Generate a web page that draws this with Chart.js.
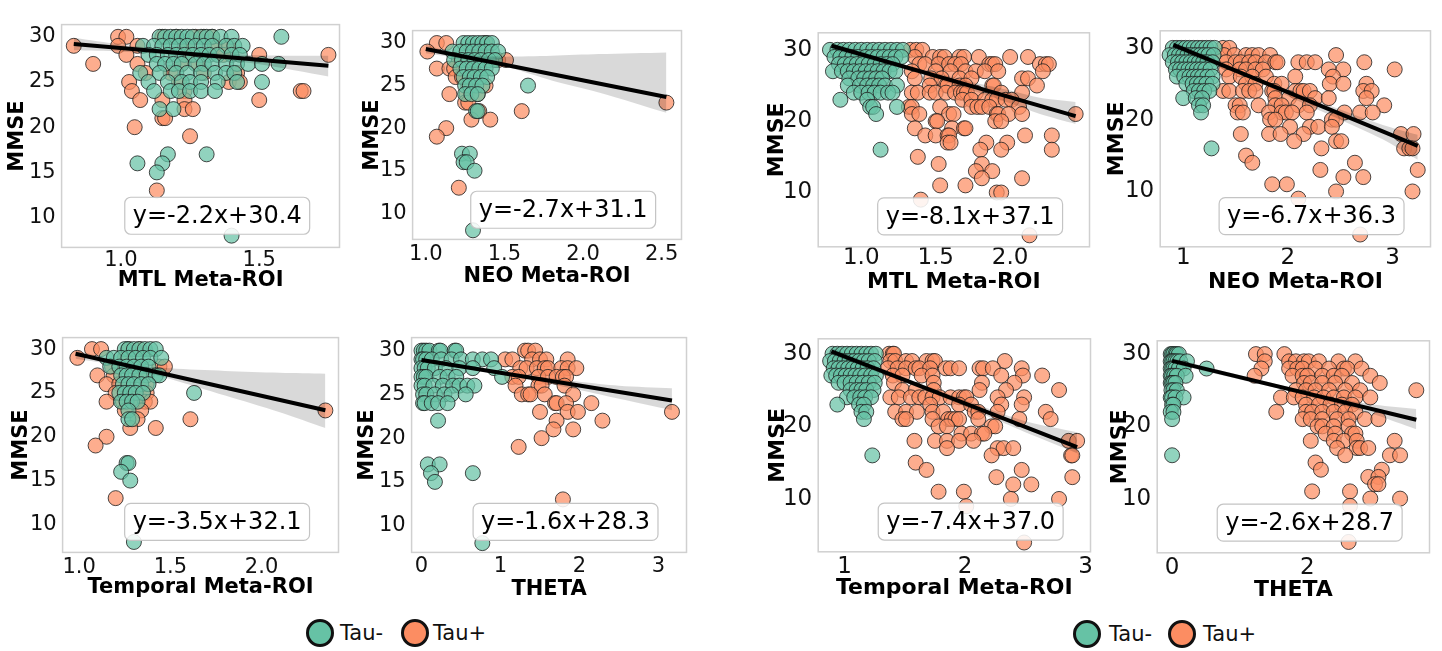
<!DOCTYPE html>
<html>
<head>
<meta charset="utf-8">
<script src="https://cdn.jsdelivr.net/npm/chart.js@4.4.1/dist/chart.umd.min.js"></script>
<style>
  body { margin: 0; background: #fff; width: 1442px; height: 651px; overflow: hidden; position: relative; font-family: "DejaVu Sans", sans-serif; }
  canvas { position: absolute; }
  .dot { position: absolute; width: 28px; height: 28px; box-sizing: border-box; border: 3px solid #111; border-radius: 50%; }
  .lbl { position: absolute; font-size: 21px; line-height: 28px; color: #111; }
</style>
</head>
<body>
<script>
// MMSE rows: first value is the MMSE score, the rest are the x values of the points on that row
const aMtlNeg = [
  [30, 1.14, 1.16, 1.18, 1.20, 1.22, 1.24, 1.26, 1.29, 1.31, 1.33, 1.36, 1.40, 1.58],
  [29, 1.08, 1.12, 1.15, 1.18, 1.21, 1.24, 1.27, 1.30, 1.33, 1.38, 1.41, 1.44],
  [28, 1.10, 1.13, 1.17, 1.20, 1.23, 1.26, 1.29, 1.32, 1.35, 1.40, 1.43],
  [27, 1.13, 1.16, 1.19, 1.22, 1.27, 1.30, 1.33, 1.38, 1.42, 1.46, 1.51, 1.57],
  [26, 1.07, 1.14, 1.20, 1.24, 1.29, 1.34, 1.38, 1.41],
  [25, 1.10, 1.17, 1.22, 1.25, 1.29, 1.35, 1.42, 1.51],
  [24, 1.12, 1.18, 1.21, 1.25, 1.29, 1.34],
  [22, 1.14, 1.19], [17, 1.17, 1.31], [16, 1.06, 1.15], [15, 1.13], [8, 1.40]
];
const aMtlPos = [
  [30, 0.99, 1.02, 1.15, 1.20, 1.27, 1.30, 1.33],
  [29, 0.83, 0.99, 1.06, 1.24, 1.34, 1.39],
  [28, 1.02, 1.25, 1.37, 1.50, 1.75],
  [27, 0.90, 1.06, 1.22, 1.28],
  [26, 1.09, 1.18, 1.30, 1.42],
  [25, 1.03, 1.21, 1.39, 1.43],
  [24, 1.04, 1.23, 1.65, 1.66],
  [23, 1.07, 1.15, 1.23, 1.50],
  [22, 1.23, 1.26], [21, 1.15, 1.16], [20, 1.05], [19, 1.25], [13, 1.13]
];
const aNeoNeg = [
  [30, 1.24, 1.27, 1.30, 1.33, 1.36, 1.39, 1.42],
  [29, 1.17, 1.22, 1.26, 1.30, 1.34, 1.38, 1.42, 1.46],
  [28, 1.18, 1.23, 1.27, 1.31, 1.35, 1.40, 1.44],
  [27, 1.22, 1.26, 1.30, 1.34, 1.38, 1.42],
  [26, 1.24, 1.28, 1.31, 1.35, 1.39],
  [25, 1.25, 1.28, 1.32, 1.36, 1.65],
  [24, 1.25, 1.29, 1.33],
  [22, 1.32, 1.33], [17, 1.23, 1.28], [16, 1.24, 1.26], [15, 1.31], [8, 1.30]
];
const aNeoPos = [
  [30, 1.07, 1.13, 1.38], [29, 1.01, 1.33], [28, 1.21, 1.46, 1.51],
  [27, 1.07, 1.15, 1.18, 1.30], [26, 1.19, 1.23], [25, 1.27, 1.38],
  [24, 1.15, 1.26, 1.33], [23, 1.25, 1.27, 2.53], [22, 1.34, 1.61],
  [21, 1.29, 1.41], [20, 1.13], [19, 1.07], [13, 1.21]
];
const aTempNeg = [
  [30, 1.25, 1.27, 1.30, 1.33, 1.36, 1.39, 1.42],
  [29, 1.15, 1.19, 1.23, 1.27, 1.31, 1.35, 1.39, 1.45],
  [28, 1.17, 1.22, 1.26, 1.30, 1.34, 1.38],
  [27, 1.23, 1.26, 1.29, 1.33, 1.37, 1.42, 1.44],
  [26, 1.24, 1.27, 1.30, 1.34, 1.38],
  [25, 1.22, 1.25, 1.28, 1.31, 1.35, 1.63],
  [24, 1.23, 1.26, 1.29, 1.32],
  [23, 1.27], [22, 1.27, 1.29], [17, 1.26, 1.27], [16, 1.23], [15, 1.28], [8, 1.30]
];
const aTempPos = [
  [30, 1.07, 1.12, 1.27, 1.33], [29, 0.99, 1.25], [28, 1.18, 1.44, 1.47],
  [27, 1.10, 1.19, 1.33], [26, 1.15, 1.22, 1.37], [25, 1.20, 1.31, 1.37],
  [24, 1.15, 1.24, 1.30, 1.36, 1.39], [23, 1.25, 1.34, 2.35], [22, 1.32, 1.61],
  [21, 1.28, 1.42], [20, 1.15], [19, 1.09], [13, 1.20]
];
const aThetaNeg = [
  [30, 0.00, 0.03, 0.06, 0.10, 0.22, 0.24, 0.42, 0.44],
  [29, 0.00, 0.02, 0.06, 0.13, 0.25, 0.38, 0.50, 0.65, 0.77, 0.88],
  [28, 0.00, 0.04, 0.08, 0.17, 0.31, 0.48, 0.65, 0.92],
  [27, 0.00, 0.03, 0.06, 0.23, 0.33, 0.44, 1.02],
  [26, 0.00, 0.04, 0.15, 0.27, 0.40, 0.48, 0.58, 0.67],
  [25, 0.02, 0.06, 0.17, 0.29, 0.38, 0.56],
  [24, 0.02, 0.04, 0.13, 0.21, 0.33],
  [22, 0.21], [17, 0.08, 0.23], [16, 0.12, 0.65], [15, 0.17], [8, 0.77]
];
const aThetaPos = [
  [30, 1.31, 1.35, 1.44],
  [29, 1.06, 1.15, 1.40, 1.50, 1.58, 1.85],
  [28, 1.25, 1.33, 1.46, 1.56, 1.60, 1.77, 1.85, 1.96],
  [27, 1.15, 1.23, 1.48, 1.60, 1.71, 1.79, 1.83],
  [26, 1.19, 1.48, 1.52, 1.81],
  [25, 1.27, 1.35, 1.38, 1.56, 1.92],
  [24, 1.69, 1.71, 1.83, 2.15],
  [23, 1.50, 1.85, 1.98, 3.17],
  [22, 1.71, 2.29], [21, 1.67, 1.92], [20, 1.52], [19, 1.23], [13, 1.79]
];
const bMtlNeg = [
  [30, 0.79, 0.84, 0.88, 0.92, 0.96, 1.00, 1.04, 1.08, 1.12, 1.16, 1.20, 1.24, 1.28],
  [29, 0.82, 0.86, 0.90, 0.94, 0.98, 1.03, 1.07, 1.11, 1.15, 1.19, 1.23, 1.27],
  [28, 0.85, 0.89, 0.93, 0.97, 1.01, 1.05, 1.09, 1.13, 1.17, 1.21],
  [27, 0.81, 0.87, 0.91, 0.95, 0.99, 1.03, 1.07, 1.11, 1.15, 1.19, 1.23],
  [26, 0.92, 0.98, 1.02, 1.06, 1.10, 1.14],
  [25, 0.91, 0.99, 1.04, 1.08, 1.12, 1.16, 1.24],
  [24, 0.95, 1.00, 1.05, 1.09, 1.13, 1.18, 1.21],
  [23, 0.86, 1.04], [22, 1.06, 1.08, 1.24], [21, 1.10], [16, 1.13]
];
const bMtlPos = [
  [30, 1.33, 1.37, 1.41],
  [29, 1.36, 1.48, 1.53, 1.56, 1.66, 1.69, 1.79, 2.00, 2.12],
  [28, 1.39, 1.43, 1.52, 1.59, 1.63, 1.67, 1.86, 1.88, 1.90, 2.20, 2.24, 2.26],
  [27, 1.34, 1.50, 1.60, 1.70, 1.77, 1.83, 1.92, 2.22],
  [26, 1.36, 1.47, 1.54, 1.66, 1.74, 2.08, 2.12],
  [25, 1.46, 1.57, 1.58, 1.66, 1.70, 1.88, 1.89, 2.18],
  [24, 1.34, 1.38, 1.46, 1.50, 1.57, 1.63, 1.67, 1.69, 1.71, 1.77, 1.94, 2.08],
  [23, 1.68, 1.74, 1.83, 1.88, 1.91, 1.97, 2.01],
  [22, 1.32, 1.34, 1.53, 1.74, 1.78, 1.81, 1.86, 2.06],
  [21, 1.34, 1.39, 1.59, 1.62, 1.91, 1.92, 1.99, 2.08, 2.44],
  [20, 1.50, 1.51, 1.90, 1.94],
  [19, 1.36, 1.61, 1.69, 1.70],
  [18, 1.43, 1.50, 1.58, 1.59, 2.10, 2.28],
  [17, 1.58, 1.60, 1.84, 1.98],
  [16, 1.80, 1.94, 2.28], [15, 1.38], [14, 1.52, 1.81], [13, 1.77, 1.88],
  [12, 1.81, 2.08], [11, 1.53, 1.70], [10, 1.91, 1.94], [9, 1.40], [4, 2.13]
];
const bNeoNeg = [
  [30, 0.90, 0.94, 0.98, 1.02, 1.06, 1.10, 1.14, 1.18, 1.22, 1.26, 1.30],
  [29, 0.87, 0.92, 0.96, 1.00, 1.04, 1.08, 1.12, 1.16, 1.20, 1.24, 1.29],
  [28, 0.90, 0.95, 0.99, 1.03, 1.07, 1.11, 1.15, 1.19, 1.23, 1.28],
  [27, 0.93, 0.97, 1.01, 1.05, 1.09, 1.13, 1.17, 1.21, 1.26],
  [26, 0.94, 1.01, 1.06, 1.10, 1.14, 1.18, 1.23, 1.28],
  [25, 1.03, 1.09, 1.13, 1.17, 1.22, 1.28],
  [24, 1.10, 1.15, 1.20, 1.25],
  [23, 1.00, 1.12, 1.18], [22, 1.15, 1.19], [21, 1.17], [16, 1.27]
];
const bNeoPos = [
  [30, 1.38, 1.44],
  [29, 1.39, 1.49, 1.60, 1.66, 1.72, 1.83, 2.46],
  [28, 1.41, 1.50, 1.55, 1.63, 1.69, 1.79, 1.88, 1.90, 2.10, 2.18, 2.26, 2.73],
  [27, 1.41, 1.54, 1.60, 1.69, 1.76, 2.39, 2.53, 3.02],
  [26, 1.44, 1.55, 1.66, 1.79, 2.07, 2.43],
  [25, 1.60, 1.69, 1.87, 1.94, 2.40, 2.53, 2.75],
  [24, 1.38, 1.44, 1.57, 1.63, 1.69, 1.85, 1.87, 2.07, 2.12, 2.15, 2.21, 2.72, 2.80],
  [23, 1.88, 2.01, 2.26, 2.39, 2.75],
  [22, 1.50, 1.54, 1.72, 1.88, 1.94, 2.10, 2.21, 2.92],
  [21, 1.52, 1.57, 1.82, 1.94, 1.98, 2.04, 2.18, 2.54, 2.69, 2.81],
  [20, 1.83, 1.88, 2.42, 2.46],
  [19, 2.02, 2.21, 2.29, 2.42],
  [18, 1.55, 1.82, 1.93, 2.15, 3.08, 3.20],
  [17, 2.06, 2.46, 2.51],
  [16, 2.32, 3.11, 3.16, 3.19], [15, 1.60], [14, 1.66, 2.64], [13, 2.31, 3.24],
  [12, 2.53, 2.72], [11, 1.85, 1.99], [10, 2.46, 3.19], [9, 2.10], [4, 2.69]
];
const bTempNeg = [
  [30, 0.90, 0.94, 0.98, 1.02, 1.06, 1.10, 1.14, 1.18, 1.22, 1.26],
  [29, 0.88, 0.92, 0.96, 1.00, 1.04, 1.08, 1.12, 1.16, 1.20, 1.25],
  [28, 0.91, 0.95, 0.99, 1.03, 1.07, 1.11, 1.15, 1.19, 1.24],
  [27, 0.89, 0.93, 0.97, 1.01, 1.05, 1.09, 1.13, 1.17, 1.22, 1.26],
  [26, 0.95, 1.00, 1.05, 1.10, 1.15, 1.20, 1.25],
  [25, 1.05, 1.10, 1.14, 1.18, 1.24],
  [24, 1.02, 1.08, 1.13, 1.17, 1.22],
  [23, 0.94, 1.12, 1.16], [22, 1.14, 1.18], [21, 1.16], [16, 1.23]
];
const bTempPos = [
  [30, 1.37, 1.40, 1.41],
  [29, 1.38, 1.42, 1.51, 1.56, 1.68, 1.73, 1.75, 2.33],
  [28, 1.36, 1.44, 1.51, 1.59, 1.62, 1.71, 1.84, 1.88, 1.95, 2.12, 2.15, 2.23, 2.47],
  [27, 1.40, 1.48, 1.64, 1.73, 2.30, 2.48, 2.64],
  [26, 1.41, 1.74, 2.14, 2.41],
  [25, 1.48, 1.59, 1.74, 2.12, 2.34, 2.78],
  [24, 1.38, 1.45, 1.55, 1.62, 1.67, 1.73, 1.79, 1.88, 1.95, 1.99, 2.01, 2.27, 2.49],
  [23, 1.71, 1.95, 2.05, 2.30, 2.47],
  [22, 1.42, 1.51, 1.60, 1.73, 1.82, 2.08, 2.11, 2.27, 2.67],
  [21, 1.48, 1.51, 1.73, 1.86, 1.89, 1.92, 1.95, 2.11, 2.45, 2.71],
  [20, 1.78, 1.85, 2.22, 2.25],
  [19, 1.97, 2.05, 2.14, 2.16],
  [18, 1.58, 1.75, 1.85, 1.95, 2.07, 2.86, 2.93],
  [17, 1.85, 2.27, 2.32, 2.40],
  [16, 2.22, 2.88, 2.89], [15, 1.59], [14, 1.68, 2.47], [13, 2.26, 2.89],
  [12, 2.40, 2.55], [11, 1.78, 1.99], [10, 2.38, 2.78], [9, 2.01], [4, 2.49]
];
const bThetaNeg = [
  [30, -0.02, 0.00, 0.02, 0.05, 0.07, 0.10],
  [29, -0.02, 0.00, 0.02, 0.05, 0.08, 0.12, 0.22],
  [28, -0.02, 0.00, 0.02, 0.05, 0.10, 0.17, 0.51],
  [27, -0.02, 0.00, 0.03, 0.07, 0.20],
  [26, -0.02, 0.00, 0.02, 0.05],
  [25, -0.01, 0.02, 0.07],
  [24, -0.02, 0.00, 0.05, 0.17],
  [23, 0.00, 0.02], [22, -0.02, 0.02], [21, 0.00], [16, 0.00]
];
const bThetaPos = [
  [30, 1.24, 1.37, 1.66],
  [29, 1.37, 1.73, 1.83, 1.95, 2.02, 2.17, 2.46, 2.71],
  [28, 1.32, 1.73, 1.85, 1.93, 2.12, 2.32, 2.54, 2.59, 2.80],
  [27, 1.22, 1.78, 1.93, 2.00, 2.22, 2.39, 2.51, 2.93],
  [26, 1.95, 2.05, 2.22, 2.41, 2.66, 3.07],
  [25, 1.83, 1.98, 2.12, 2.32, 2.56, 2.78, 3.61],
  [24, 1.61, 1.80, 1.93, 2.10, 2.24, 2.39, 2.54, 2.71, 2.93],
  [23, 1.98, 2.17, 2.34, 2.51, 2.66],
  [22, 1.54, 1.98, 2.07, 2.22, 2.39, 2.56, 2.71],
  [21, 1.93, 2.05, 2.22, 2.44, 2.61, 2.85, 3.05],
  [20, 2.15, 2.22, 2.39, 2.61],
  [19, 2.27, 2.41, 2.66, 2.71],
  [18, 2.05, 2.39, 2.54, 2.73, 3.29],
  [17, 2.44, 2.73, 2.78, 2.90],
  [16, 2.56, 3.22, 3.37], [15, 2.12], [14, 2.20, 3.10], [13, 2.90, 3.05],
  [12, 3.00, 3.05], [11, 2.07, 2.63], [10, 2.93, 3.37], [9, 2.63], [4, 2.61]
];

// regression line ends and confidence band
const aMtlFitX = [0.83, 1.75], aMtlFitY = [29.2, 26.8];
const aMtlBandX = [0.83, 1.0, 1.23, 1.5, 1.75];
const aMtlBandHi = [29.9, 29.16, 28.41, 27.96, 27.9];
const aMtlBandLo = [28.5, 28.36, 27.91, 26.96, 25.6];

const aNeoFitX = [1.0, 2.53], aNeoFitY = [29.3, 23.65];
const aNeoBandX = [1.0, 1.15, 1.32, 1.5, 1.8, 2.1, 2.53];
const aNeoBandHi = [29.8, 29.0, 28.5, 28.4, 28.5, 28.7, 28.9];
const aNeoBandLo = [28.8, 28.4, 27.9, 27.3, 25.6, 24.2, 21.8];

const aTempFitX = [0.98, 2.35], aTempFitY = [29.47, 23.03];
const aTempBandX = [0.98, 1.15, 1.3, 1.5, 1.8, 2.1, 2.35];
const aTempBandHi = [29.9, 28.95, 28.2, 27.8, 27.5, 27.3, 27.2];
const aTempBandLo = [28.9, 28.35, 27.7, 26.6, 24.7, 22.8, 21.0];

const aThetaFitX = [0, 3.17], aThetaFitY = [28.93, 24.31];
const aThetaBandX = [0, 0.4, 0.8, 1.2, 1.6, 2.0, 2.5, 3.17];
const aThetaBandHi = [29.2, 28.55, 27.95, 27.4, 26.9, 26.45, 26.0, 25.7];
const aThetaBandLo = [28.65, 28.15, 27.55, 26.95, 26.25, 25.5, 24.5, 23.2];

const bMtlFitX = [0.8, 2.44], bMtlFitY = [30.57, 20.7];
const bMtlBandX = [0.8, 1.1, 1.4, 1.7, 2.0, 2.2, 2.44];
const bMtlBandHi = [31.0, 29.1, 27.3, 25.7, 24.3, 23.3, 22.7];
const bMtlBandLo = [30.1, 28.4, 26.6, 24.6, 22.5, 21.0, 19.6];

const bNeoFitX = [0.905, 3.24], bNeoFitY = [30.43, 16.36];
const bNeoBandX = [0.9, 1.3, 1.7, 2.1, 2.5, 2.9, 3.24];
const bNeoBandHi = [30.9, 28.4, 25.9, 23.6, 21.4, 19.3, 17.9];
const bNeoBandLo = [29.9, 27.6, 25.3, 22.6, 20.0, 17.3, 14.4];

const bTempFitX = [0.89, 2.93], bTempFitY = [30.34, 17.15];
const bTempBandX = [0.89, 1.3, 1.7, 2.1, 2.5, 2.93];
const bTempBandHi = [30.8, 28.05, 25.45, 23.0, 20.7, 19.2];
const bTempBandLo = [29.9, 27.3, 24.75, 22.0, 19.2, 16.3];

const bThetaFitX = [0, 3.61], bThetaFitY = [29.06, 20.92];
const bThetaBandX = [0, 0.5, 1.0, 1.5, 2.0, 2.5, 3.0, 3.61];
const bThetaBandHi = [29.45, 28.25, 27.1, 25.95, 24.85, 23.8, 23.0, 22.4];
const bThetaBandLo = [28.7, 27.6, 26.5, 25.4, 24.25, 23.0, 21.6, 19.6];

// printed equations
const eqSlopes = [-2.2, -2.7, -3.5, -1.6, -8.1, -6.7, -7.4, -2.6];
const eqIntercepts = [30.4, 31.1, 32.1, 28.3, 37.1, 36.3, 37.0, 28.7];

const xTitles = ['MTL Meta-ROI', 'NEO Meta-ROI', 'Temporal Meta-ROI', 'THETA'];
const yTitle = 'MMSE';
const yTicksA = [10, 15, 20, 25, 30];
const yTicksB = [10, 20, 30];
const seriesNames = ['Tau-', 'Tau+'];

const GREEN = 'rgba(102, 194, 165, 0.72)';
const ORANGE = 'rgba(252, 141, 98, 0.72)';
const EDGE = 'rgba(30, 30, 30, 0.8)';
const BAND = 'rgba(0, 0, 0, 0.15)';

Chart.defaults.font.family = '"DejaVu Sans", sans-serif';
Chart.defaults.color = '#111';

const rowsToPoints = (rows) => rows.flatMap(([y, ...xs]) => xs.map((x) => ({ x, y })));
const zip = (xs, ys) => xs.map((x, i) => ({ x, y: ys[i] }));
const fmtEq = (i) => `y=${eqSlopes[i].toFixed(1)}x+${eqIntercepts[i].toFixed(1)}`;

// frame around the plot area and the equation box
const panelDecor = {
  id: 'panelDecor',
  beforeDatasetsDraw(chart) {
    const { ctx, chartArea: a } = chart;
    ctx.save();
    ctx.strokeStyle = '#d0d0d0';
    ctx.lineWidth = 1.5;
    ctx.strokeRect(a.left, a.top, a.width, a.height);
    ctx.restore();
  },
  afterDatasetsDraw(chart, args, opts) {
    const { ctx, chartArea: a } = chart;
    ctx.save();
    ctx.font = '24px "DejaVu Sans"';
    const w = ctx.measureText(opts.text).width + 16;
    const h = 37;
    const cx = a.left + a.width * 0.56;
    const cy = a.top + a.height * 0.858;
    ctx.beginPath();
    ctx.roundRect(cx - w / 2, cy - h / 2, w, h, 6);
    ctx.fillStyle = 'rgba(255, 255, 255, 0.88)';
    ctx.fill();
    ctx.strokeStyle = '#c4c4c4';
    ctx.lineWidth = 1.2;
    ctx.stroke();
    ctx.fillStyle = '#000';
    ctx.textAlign = 'center';
    ctx.textBaseline = 'middle';
    ctx.fillText(opts.text, cx, cy + 1);
    ctx.restore();
  },
};

// l/t/r/b = plot area in page pixels, titleX = centre of the MMSE title,
// tickY / titleY = centres of x tick labels and x title
const panels = [
  { neg: aMtlNeg, pos: aMtlPos, fitX: aMtlFitX, fitY: aMtlFitY, bandX: aMtlBandX, hi: aMtlBandHi, lo: aMtlBandLo,
    xTitle: 0, xMin: 0.786, xMax: 1.79, yMin: 6.7, yMax: 31.35, xTicks: [1.0, 1.5], dec: 1, big: false,
    l: 62, t: 10, r: 343, b: 248, titleX: 18, tickY: 261, titleY: 281 },
  { neg: aNeoNeg, pos: aNeoPos, fitX: aNeoFitX, fitY: aNeoFitY, bandX: aNeoBandX, hi: aNeoBandHi, lo: aNeoBandLo,
    xTitle: 1, xMin: 0.916, xMax: 2.626, yMin: 6.93, yMax: 31.46, xTicks: [1.0, 1.5, 2.0, 2.5], dec: 1, big: false,
    l: 413, t: 16, r: 685, b: 240, titleX: 373, tickY: 255, titleY: 277 },
  { neg: aTempNeg, pos: aTempPos, fitX: aTempFitX, fitY: aTempFitY, bandX: aTempBandX, hi: aTempBandHi, lo: aTempBandLo,
    xTitle: 2, xMin: 0.909, xMax: 2.422, yMin: 6.81, yMax: 31.31, xTicks: [1.0, 1.5, 2.0], dec: 1, big: false,
    l: 63, t: 323, r: 342, b: 553, titleX: 22, tickY: 568, titleY: 588 },
  { neg: aThetaNeg, pos: aThetaPos, fitX: aThetaFitX, fitY: aThetaFitY, bandX: aThetaBandX, hi: aThetaBandHi, lo: aThetaBandLo,
    xTitle: 3, xMin: -0.125, xMax: 3.354, yMin: 6.94, yMax: 31.49, xTicks: [0, 1, 2, 3], dec: 0, big: false,
    l: 412, t: 323, r: 690, b: 553, titleX: 368, tickY: 567, titleY: 590 },
  { neg: bMtlNeg, pos: bMtlPos, fitX: bMtlFitX, fitY: bMtlFitY, bandX: bMtlBandX, hi: bMtlBandHi, lo: bMtlBandLo,
    xTitle: 0, xMin: 0.711, xMax: 2.533, yMin: 2.39, yMax: 32.39, xTicks: [1.0, 1.5, 2.0], dec: 1, big: true,
    l: 818, t: 17, r: 1092, b: 247, titleX: 777, tickY: 258, titleY: 282 },
  { neg: bNeoNeg, pos: bNeoPos, fitX: bNeoFitX, fitY: bNeoFitY, bandX: bNeoBandX, hi: bNeoBandHi, lo: bNeoBandLo,
    xTitle: 1, xMin: 0.78, xMax: 3.362, yMin: 2.29, yMax: 32.38, xTicks: [1, 2, 3], dec: 0, big: true,
    l: 1160, t: 15, r: 1433, b: 247, titleX: 1117, tickY: 258, titleY: 282 },
  { neg: bTempNeg, pos: bTempPos, fitX: bTempFitX, fitY: bTempFitY, bandX: bTempBandX, hi: bTempBandHi, lo: bTempBandLo,
    xTitle: 2, xMin: 0.781, xMax: 3.041, yMin: 2.72, yMax: 32.06, xTicks: [1, 2, 3], dec: 0, big: true,
    l: 818, t: 323, r: 1093, b: 552, titleX: 778, tickY: 567, titleY: 588 },
  { neg: bThetaNeg, pos: bThetaPos, fitX: bThetaFitX, fitY: bThetaFitY, bandX: bThetaBandX, hi: bThetaBandHi, lo: bThetaBandLo,
    xTitle: 3, xMin: -0.22, xMax: 3.805, yMin: 2.5, yMax: 31.84, xTicks: [0, 2], dec: 0, big: true,
    l: 1157, t: 325, r: 1432, b: 553, titleX: 1120, tickY: 568, titleY: 590 },
];

function makePanel(p, i) {
  const tickSize = p.big ? 23 : 21;
  const xTitleSize = p.big ? 22 : 21;
  const yTitleSize = p.big ? 22 : 21;
  const padTop = 4, padRight = 6;
  const canvasLeft = p.titleX - (yTitleSize * 1.2) / 2;
  const yw = p.l - canvasLeft;
  const xTickPad = p.tickY - p.b - (tickSize * 1.2) / 2;
  const xh = p.titleY - p.b + (xTitleSize * 1.2) / 2;

  const canvas = document.createElement('canvas');
  canvas.width = p.r + padRight - canvasLeft;
  canvas.height = p.b + xh - (p.t - padTop);
  canvas.style.left = canvasLeft + 'px';
  canvas.style.top = p.t - padTop + 'px';
  document.body.appendChild(canvas);

  const scatterStyle = { borderColor: EDGE, borderWidth: 1, pointRadius: 7.5, clip: false };

  return new Chart(canvas, {
    type: 'scatter',
    data: {
      datasets: [
        { label: seriesNames[0], data: rowsToPoints(p.neg), backgroundColor: GREEN, ...scatterStyle, order: 3 },
        { label: seriesNames[1], data: rowsToPoints(p.pos), backgroundColor: ORANGE, ...scatterStyle, order: 4 },
        { type: 'line', data: zip(p.bandX, p.hi), borderColor: 'transparent', borderWidth: 0, pointRadius: 0,
          backgroundColor: BAND, fill: '+1', tension: 0.3, order: 2 },
        { type: 'line', data: zip(p.bandX, p.lo), borderColor: 'transparent', borderWidth: 0, pointRadius: 0,
          fill: false, tension: 0.3, order: 2 },
        { type: 'line', data: zip(p.fitX, p.fitY), borderColor: '#000', borderWidth: 4, pointRadius: 0,
          fill: false, order: 0 },
      ],
    },
    options: {
      responsive: false,
      devicePixelRatio: 1,
      animation: false,
      events: [],
      layout: { padding: { top: padTop, right: padRight, left: 0, bottom: 0 } },
      plugins: {
        legend: { display: false },
        tooltip: { enabled: false },
        panelDecor: { text: fmtEq(i) },
      },
      scales: {
        x: {
          type: 'linear',
          min: p.xMin,
          max: p.xMax,
          grid: { display: false, drawTicks: false },
          border: { display: false },
          afterBuildTicks: (s) => { s.ticks = p.xTicks.map((v) => ({ value: v })); },
          ticks: { font: { size: tickSize }, color: '#111', padding: xTickPad, maxRotation: 0, autoSkip: false,
            callback: (v) => Number(v).toFixed(p.dec) },
          title: { display: true, text: xTitles[p.xTitle], font: { size: xTitleSize, weight: 'bold' }, color: '#000', padding: 0 },
          afterFit: (s) => { s.height = xh; },
        },
        y: {
          type: 'linear',
          min: p.yMin,
          max: p.yMax,
          grid: { display: false, drawTicks: false },
          border: { display: false },
          afterBuildTicks: (s) => { s.ticks = (p.big ? yTicksB : yTicksA).map((v) => ({ value: v })); },
          ticks: { font: { size: tickSize }, color: '#111', padding: 6, autoSkip: false, callback: (v) => String(v) },
          title: { display: true, text: yTitle, font: { size: yTitleSize, weight: 'bold' }, color: '#000', padding: 0 },
          afterFit: (s) => { s.width = yw; },
        },
      },
    },
    plugins: [panelDecor],
  });
}

panels.forEach(makePanel);

// legends below each group of four panels
function addLegend(cx1, tx1, cx2, tx2, cy) {
  const items = [[cx1, tx1, GREEN, seriesNames[0]], [cx2, tx2, ORANGE, seriesNames[1]]];
  items.forEach(([cx, tx, color, name]) => {
    const dot = document.createElement('div');
    dot.className = 'dot';
    dot.style.left = cx - 14 + 'px';
    dot.style.top = cy - 14 + 'px';
    dot.style.background = color.replace(/[\d.]+\)$/, '1)');
    document.body.appendChild(dot);
    const lbl = document.createElement('div');
    lbl.className = 'lbl';
    lbl.style.left = tx + 'px';
    lbl.style.top = cy - 14 + 'px';
    lbl.textContent = name;
    document.body.appendChild(lbl);
  });
}
addLegend(320, 340, 415, 433, 633);
addLegend(1087, 1109, 1182, 1203, 634);
</script>
</body>
</html>
